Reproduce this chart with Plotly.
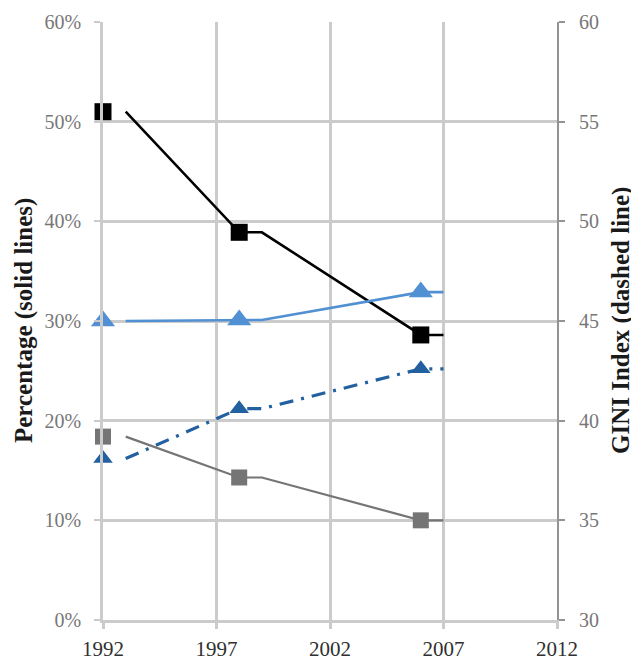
import plotly.graph_objects as go

# Data
period_start = [1992, 1998, 2006]   # markers sit at the first year of each survey period
period_end = [1993, 1999, 2007]     # lines run to the last year of each period
black_pct = [0.510, 0.389, 0.286]
lightblue_pct = [0.300, 0.301, 0.329]
gray_pct = [0.184, 0.143, 0.100]
gini = [38.1, 40.6, 42.6]

x_ticks = [1992, 1997, 2002, 2007, 2012]

BLACK = "#000000"
LBLUE = "#5190d2"
DBLUE = "#22609f"
GRAY = "#757575"
GRID = "#cbcbcb"
SERIF = "Liberation Serif, Times New Roman, serif"

# the page body adds an 8px offset, so the figure is sized to fit the window
PAGE_OFF = 8
FIG_W, FIG_H = 639 - PAGE_OFF, 662 - PAGE_OFF
PLOT_L, PLOT_R, PLOT_T, PLOT_B = 103, 557, 22, 620  # page pixel positions of plot area

fig = go.Figure()


def line_path(vals):
    xs, ys = [period_end[0]], [vals[0]]
    for i in range(1, len(vals)):
        xs += [period_start[i], period_end[i]]
        ys += [vals[i], vals[i]]
    return xs, ys


def add_series(vals, color, width, symbol, msize, yaxis="y", dash="solid"):
    lx, ly = line_path(vals)
    fig.add_trace(go.Scatter(x=lx, y=ly, mode="lines", yaxis=yaxis,
                             line=dict(color=color, width=width, dash=dash),
                             showlegend=False, hoverinfo="skip"))
    fig.add_trace(go.Scatter(x=period_start, y=vals, mode="markers", yaxis=yaxis,
                             marker=dict(symbol=symbol, size=msize, color=color,
                                         line=dict(width=0)),
                             cliponaxis=False, showlegend=False))


add_series(gray_pct, GRAY, 2.2, "square", 16)
add_series(black_pct, BLACK, 2.6, "square", 17)
add_series(lightblue_pct, LBLUE, 2.6, "triangle-up", 21)
add_series(gini, DBLUE, 3.2, "triangle-up", 17, yaxis="y2", dash="14px,8px,3px,8px")

plot_w = PLOT_R - PLOT_L

fig.update_layout(
    width=FIG_W, height=FIG_H,
    margin=dict(l=PLOT_L - PAGE_OFF, r=FIG_W - (PLOT_R - PAGE_OFF),
                t=PLOT_T - PAGE_OFF, b=FIG_H - (PLOT_B - PAGE_OFF), autoexpand=False),
    paper_bgcolor="white", plot_bgcolor="white",
    font=dict(family=SERIF, color="#404040"),
    xaxis=dict(range=[1992, 2012], tickvals=x_ticks, ticktext=[str(v) for v in x_ticks],
               showgrid=True, gridcolor=GRID, gridwidth=2.5,
               showline=True, linecolor=GRID, linewidth=3,
               ticks="outside", ticklen=6, tickcolor=GRID, tickwidth=2.5,
               ticklabelstandoff=2, automargin=False,
               tickfont=dict(size=21, color="#303030", family=SERIF),
               zeroline=False),
    yaxis=dict(range=[0, 0.6], dtick=0.1, tickformat=".0%",
               showgrid=True, gridcolor=GRID, gridwidth=2.5,
               showline=True, linecolor=GRID, linewidth=2.5,
               ticks="outside", ticklen=6, tickcolor=GRID, tickwidth=2,
               ticklabelstandoff=9, automargin=False,
               tickfont=dict(size=20, color="#777777", family=SERIF),
               zeroline=False),
    yaxis2=dict(range=[30, 60], dtick=5, overlaying="y", side="right",
                showgrid=False, showline=True, linecolor="#939393", linewidth=2,
                ticks="outside", ticklen=6, tickcolor="#939393", tickwidth=2,
                ticklabelstandoff=10, automargin=False,
                tickfont=dict(size=20, color="#777777", family=SERIF),
                zeroline=False),
    annotations=[
        dict(text="<b>Percentage (solid lines)</b>", textangle=-90,
             xref="paper", yref="paper", x=(24 - PLOT_L) / plot_w, y=0.5,
             xanchor="center", yanchor="middle", showarrow=False,
             font=dict(size=25, color="#1a1a1a", family=SERIF)),
        dict(text="<b>GINI Index (dashed line)</b>", textangle=-90,
             xref="paper", yref="paper", x=(621 - PLOT_L) / plot_w, y=0.5,
             xanchor="center", yanchor="middle", showarrow=False,
             font=dict(size=25, color="#1a1a1a", family=SERIF)),
    ],
)

fig.write_html("out.html")
